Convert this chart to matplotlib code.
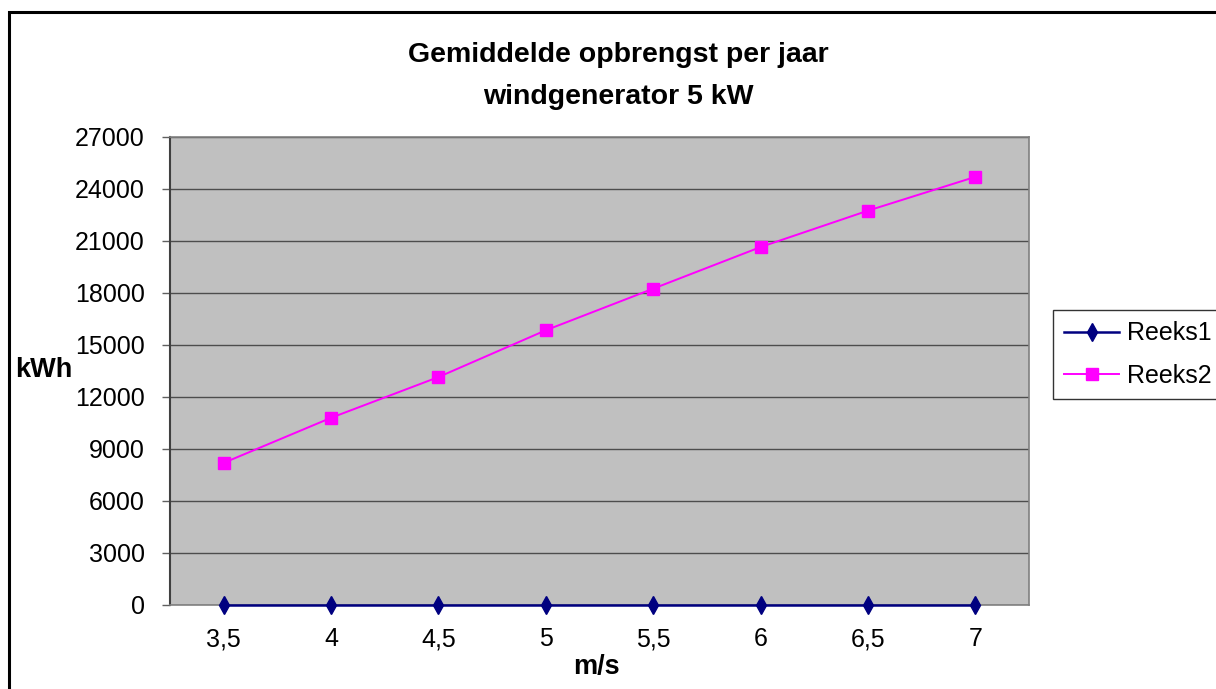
import matplotlib
matplotlib.use("Agg")
import matplotlib.pyplot as plt
from matplotlib.patches import Rectangle

# ==== Data ====
wind_labels = ["3,5", "4", "4,5", "5", "5,5", "6", "6,5", "7"]
reeks1 = [0, 0, 0, 0, 0, 0, 0, 0]
reeks2 = [8200, 10800, 13150, 15850, 18250, 20650, 22750, 24700]
y_ticks = [0, 3000, 6000, 9000, 12000, 15000, 18000, 21000, 24000, 27000]

plt.rcParams["font.family"] = ["Liberation Sans", "DejaVu Sans"]

W, H = 1216, 689
fig = plt.figure(figsize=(W / 100, H / 100), dpi=100)
fig.patch.set_facecolor("white")

# plot area in pixel coords of the reference
ax = fig.add_axes([170 / W, 1 - 605 / H, 859 / W, 468 / H])
ax.set_facecolor("#C0C0C0")

x = list(range(len(wind_labels)))
ax.plot(x, reeks1, color="#000080", lw=1.8, marker="d", markersize=9,
        markerfacecolor="#000080", markeredgecolor="#000080", label="Reeks1",
        zorder=4, clip_on=False)
ax.plot(x, reeks2, color="#FF00FF", lw=1.4, marker="s", markersize=8,
        markerfacecolor="#FF00FF", markeredgecolor="#FF00FF", label="Reeks2",
        zorder=4)

ax.set_xlim(-0.5, len(wind_labels) - 0.5)
ax.set_ylim(0, 27000)
ax.set_yticks(y_ticks)
ax.set_yticklabels([str(v) for v in y_ticks], fontsize=18)
ax.set_xticks(x)
ax.set_xticklabels(wind_labels, fontsize=18)

ax.yaxis.grid(True, color="#4d4d4d", lw=1.0)
ax.set_axisbelow(True)
ax.tick_params(axis="y", direction="out", length=6, width=1, color="#606060", pad=12)
ax.tick_params(axis="x", length=0, pad=16)

for side in ["top", "right", "bottom"]:
    ax.spines[side].set_color("#808080")
    ax.spines[side].set_linewidth(1.2)
ax.spines["left"].set_color("#404040")
ax.spines["left"].set_linewidth(1.5)

# axis titles
fig.text(44 / W, 1 - 370 / H, "kWh", fontsize=19.5, fontweight="bold",
         ha="center", va="center")
fig.text(596 / W, 1 - 667 / H, "m/s", fontsize=19.5, fontweight="bold",
         ha="center", va="center")

# chart title
fig.text(618 / W, 1 - 55 / H, "Gemiddelde opbrengst per jaar", fontsize=20.5,
         fontweight="bold", ha="center", va="center")
fig.text(618 / W, 1 - 97 / H, "windgenerator 5 kW", fontsize=20.5,
         fontweight="bold", ha="center", va="center")

leg = ax.legend(loc="upper left", bbox_to_anchor=(1053 / W, 1 - 310 / H),
                bbox_transform=fig.transFigure, borderaxespad=0, fontsize=18,
                frameon=True, fancybox=False, handlelength=2.2,
                handletextpad=0.3, labelspacing=0.75, borderpad=0.45)
leg.get_frame().set_edgecolor("black")
leg.get_frame().set_linewidth(1.0)
leg.get_frame().set_facecolor("white")

# outer chart border (runs off the right and bottom edges)
fig.patches.append(Rectangle((9 / W, -0.1), 1.2, 1.1 - 12 / H, fill=False,
                             edgecolor="black", lw=2.2,
                             transform=fig.transFigure, figure=fig))

fig.savefig("out.png", dpi=100)
